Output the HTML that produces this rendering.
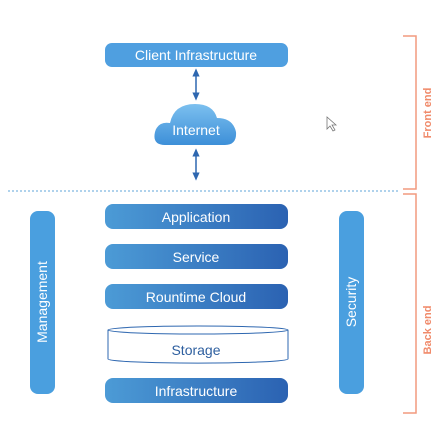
<!DOCTYPE html>
<html><head><style>
html,body{margin:0;padding:0;background:#fff;width:444px;height:425px;overflow:hidden}
svg text{font-family:"Liberation Sans",sans-serif}
</style></head><body>
<svg width="444" height="425" viewBox="0 0 444 425" xmlns="http://www.w3.org/2000/svg">
<defs>
<linearGradient id="g" x1="0" x2="1" y1="0" y2="0">
<stop offset="0" stop-color="#4c9bd6"/><stop offset="1" stop-color="#2b62b2"/>
</linearGradient>
<linearGradient id="c" x1="0" x2="0" y1="0" y2="1">
<stop offset="0" stop-color="#7cc0ef"/><stop offset="1" stop-color="#3d8fd8"/>
</linearGradient>
<marker id="a" viewBox="0 0 10 10" refX="5" refY="5" markerWidth="6" markerHeight="6" orient="auto-start-reverse">
<path d="M0,1 L9,5 L0,9 z" fill="#2e67b0"/>
</marker>
</defs>
<rect x="105" y="43" width="183" height="24" rx="7" fill="#4f9fe0"/>
<text x="196" y="60" text-anchor="middle" fill="#fff" font-size="14">Client Infrastructure</text>
<line x1="196" y1="72" x2="196" y2="97" stroke="#2e67b0" stroke-width="1.5" marker-start="url(#a)" marker-end="url(#a)"/>
<path d="M165,145 Q152,145 155,132 Q158,121 170,123 Q174,104 195,104 Q213,104 217,118 Q233,118 236,132 Q237,145 225,145 Z" fill="url(#c)"/>
<text x="196" y="135" text-anchor="middle" fill="#fff" font-size="14">Internet</text>
<line x1="196" y1="152" x2="196" y2="177" stroke="#2e67b0" stroke-width="1.5" marker-start="url(#a)" marker-end="url(#a)"/>
<line x1="8" y1="191" x2="400" y2="191" stroke="#7fb8e0" stroke-width="1.3" stroke-dasharray="2,2"/>
<path d="M403,36 H416 V189 H403" fill="none" stroke="#f29a7e" stroke-width="1.5"/>
<path d="M403,194 H416 V413 H403" fill="none" stroke="#f29a7e" stroke-width="1.5"/>
<text transform="translate(431,113) rotate(-90)" text-anchor="middle" fill="#f08a6a" font-size="11" font-weight="bold">Front end</text>
<text transform="translate(431,330) rotate(-90)" text-anchor="middle" fill="#f08a6a" font-size="11" font-weight="bold">Back end</text>
<path d="M327,117 v12 l3,-3 l3,5 l2,-1 l-3,-5 h4 z" fill="#fff" stroke="#777" stroke-width="0.8"/>
<rect x="30" y="211" width="25" height="183" rx="8" fill="#4a9fdf"/>
<text transform="translate(47,302) rotate(-90)" text-anchor="middle" fill="#fff" font-size="14">Management</text>
<rect x="339" y="211" width="25" height="183" rx="8" fill="#4a9fdf"/>
<text transform="translate(356,302) rotate(-90)" text-anchor="middle" fill="#fff" font-size="14">Security</text>
<rect x="105" y="204" width="183" height="25" rx="8" fill="url(#g)"/>
<text x="196" y="222" text-anchor="middle" fill="#fff" font-size="14">Application</text>
<rect x="105" y="244" width="183" height="25" rx="8" fill="url(#g)"/>
<text x="196" y="262" text-anchor="middle" fill="#fff" font-size="14">Service</text>
<rect x="105" y="284" width="183" height="25" rx="8" fill="url(#g)"/>
<text x="196" y="302" text-anchor="middle" fill="#fff" font-size="14">Rountime Cloud</text>
<path d="M108,330 V359 A88,4 0 0 0 288,359 V330" fill="#fff" stroke="#2e67b0" stroke-width="1"/>
<ellipse cx="198" cy="330" rx="90" ry="4" fill="#fff" stroke="#2e67b0" stroke-width="1"/>
<text x="196" y="355" text-anchor="middle" fill="#2e5f9f" font-size="14">Storage</text>
<rect x="105" y="378" width="183" height="25" rx="8" fill="url(#g)"/>
<text x="196" y="396" text-anchor="middle" fill="#fff" font-size="14">Infrastructure</text>
</svg>
</body></html>
